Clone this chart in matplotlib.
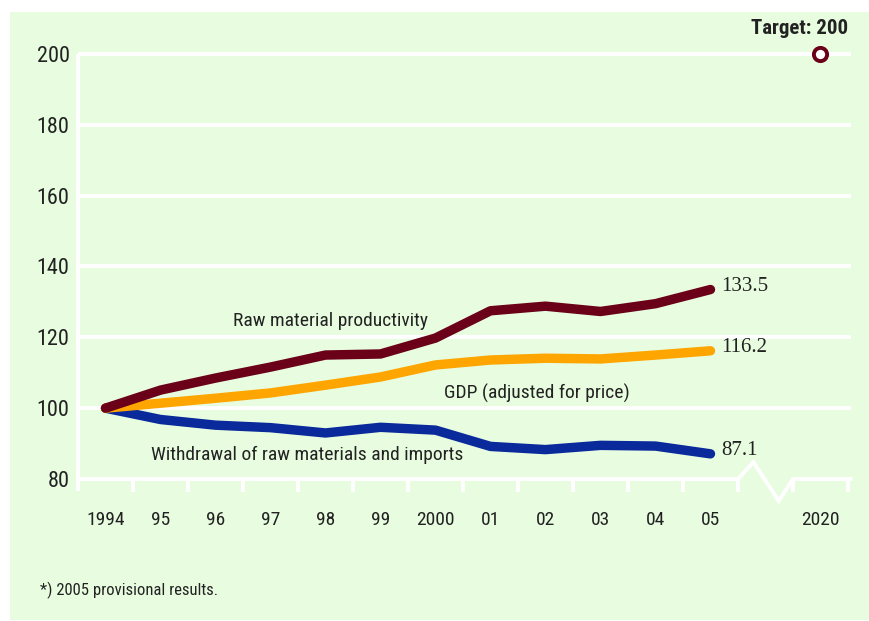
import matplotlib
matplotlib.use("Agg")
import matplotlib.pyplot as plt
from matplotlib.patches import Rectangle

# ---- data ----
year_labels = ['1994', '95', '96', '97', '98', '99', '2000', '01', '02', '03', '04', '05']
target_label = '2020'
raw_material_productivity = [100, 105.1, 108.5, 111.6, 115.0, 115.3, 119.8, 127.5, 128.8, 127.3, 129.5, 133.5]
gdp_adjusted = [100, 101.4, 102.8, 104.3, 106.5, 108.8, 112.2, 113.6, 114.1, 113.9, 115.0, 116.2]
withdrawal = [100, 96.8, 95.2, 94.5, 93.0, 94.6, 93.8, 89.2, 88.3, 89.5, 89.3, 87.1]
target_value = 200
y_ticks = [80, 100, 120, 140, 160, 180, 200]

BG = '#e8fde0'
RED = '#6b0019'
ORANGE = '#ffa500'
BLUE = '#0a2a9c'
TXT = '#222222'
NARROW = ['Liberation Sans Narrow', 'Roboto Condensed', 'Open Sans Condensed', 'DejaVu Sans']
SERIF = ['Liberation Serif', 'DejaVu Serif']

W, H = 870, 621
fig = plt.figure(figsize=(W / 100, H / 100), dpi=100)
fig.patch.set_facecolor('white')
fig.patches.append(Rectangle((10 / W, 1 / H), 1 - 10 / W, (H - 13) / H,
                             transform=fig.transFigure, facecolor=BG, edgecolor='none', zorder=-10))

# axes: x slot -0.5 at px 78, 55 px per slot; y 80 at px 479, 200 at px 54
x0, xs = 78, 55
xmin, xmax = -0.5, 13.55
left = x0 / W
width = (xmax - xmin) * xs / W
bottom = (H - 479) / H
top = (H - 54) / H
ax = fig.add_axes([left, bottom, width, top - bottom])
ax.set_facecolor('none')
ax.set_xlim(xmin, xmax)
ax.set_ylim(80, 200)
for s in ax.spines.values():
    s.set_visible(False)

n = len(raw_material_productivity)
xs_data = list(range(n))
x_target = n + 1  # one empty slot for the axis break

# grid lines
grid_lw = 2.8
for yv in y_ticks[1:]:
    ax.plot([xmin, xmax], [yv, yv], color='white', lw=grid_lw, zorder=1, clip_on=False,
            solid_capstyle='butt')
# bottom axis with break
ax.plot([xmin, n - 0.5, n - 0.22, n + 0.24, n + 0.5, xmax], [80, 80, 84.8, 73.8, 80, 80],
        color='white', lw=grid_lw, zorder=1, clip_on=False, solid_joinstyle='miter')
# left axis
ax.plot([xmin, xmin], [76.5, 200], color='white', lw=grid_lw, zorder=1, clip_on=False,
        solid_capstyle='butt')

# ticks
ax.set_yticks(y_ticks)
ax.set_yticklabels([str(v) for v in y_ticks], family=NARROW, fontsize=16, color=TXT)
ax.set_xticks(xs_data + [x_target])
ax.set_xticklabels(year_labels + [target_label], family=NARROW, fontsize=14, color=TXT)
ax.set_xticks([i + 0.5 for i in range(x_target + 1)], minor=True)
ax.tick_params(axis='y', length=0, pad=6)
ax.tick_params(axis='x', which='major', length=0, pad=23)
ax.tick_params(axis='x', which='minor', length=9, width=grid_lw, color='white', direction='out')

# lines
lw = 6.8
ax.plot(xs_data, withdrawal, color=BLUE, lw=lw, solid_capstyle='round', solid_joinstyle='round',
        zorder=3, clip_on=False)
ax.plot(xs_data, gdp_adjusted, color=ORANGE, lw=lw, solid_capstyle='round', solid_joinstyle='round',
        zorder=4, clip_on=False)
ax.plot(xs_data, raw_material_productivity, color=RED, lw=lw, solid_capstyle='round',
        solid_joinstyle='round', zorder=5, clip_on=False)

# target
ax.plot([x_target], [target_value], marker='o', markersize=9.5, markerfacecolor='white',
        markeredgecolor=RED, markeredgewidth=2.8, zorder=6, clip_on=False, linestyle='none')
ax.annotate(f'Target: {target_value}', xy=(x_target, target_value), xytext=(28, 26),
            textcoords='offset pixels', ha='right', va='center', family=NARROW,
            fontsize=15, fontweight='bold', color=TXT, annotation_clip=False)

# end values
for series in (raw_material_productivity, gdp_adjusted, withdrawal):
    ax.annotate(f'{series[-1]:.1f}', xy=(n - 1, series[-1]), xytext=(11, 3),
                textcoords='offset pixels', ha='left', va='center', family=SERIF,
                fontsize=15, color=TXT, annotation_clip=False)

# series labels
ax.text(4.1, 124.5, 'Raw material productivity', ha='center', va='center',
        family=NARROW, fontsize=14, color=TXT)
ax.text(7.85, 104.3, 'GDP (adjusted for price)', ha='center', va='center',
        family=NARROW, fontsize=14, color=TXT)
ax.text(3.67, 86.7, 'Withdrawal of raw materials and imports', ha='center', va='center',
        family=NARROW, fontsize=14, color=TXT)

fig.text(40 / W, 1 - 590 / H, '*) 2005 provisional results.', ha='left', va='center',
         family=NARROW, fontsize=12, color=TXT)

fig.savefig('out.png', dpi=100, facecolor=fig.get_facecolor())
